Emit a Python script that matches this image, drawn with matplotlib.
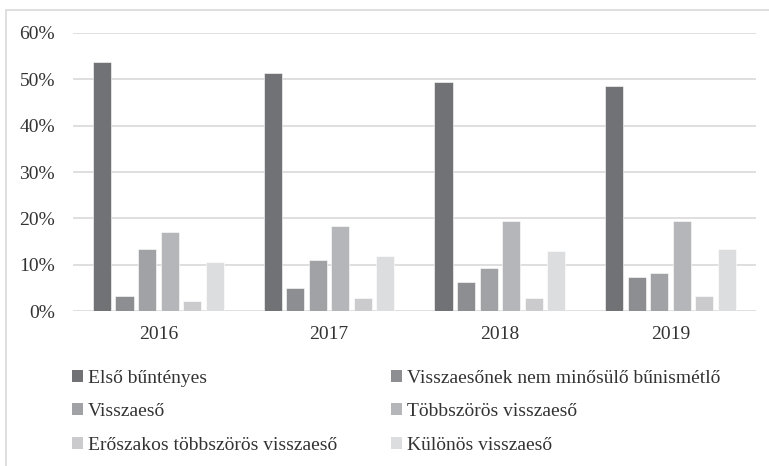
import numpy as np
import matplotlib
matplotlib.use("Agg")
import matplotlib.pyplot as plt
from matplotlib.patches import Rectangle, Patch

years = ["2016", "2017", "2018", "2019"]
series_names = [
    "Első bűntényes",
    "Visszaesőnek nem minősülő bűnismétlő",
    "Visszaeső",
    "Többszörös visszaeső",
    "Erőszakos többszörös visszaeső",
    "Különös visszaeső",
]
elso = [53.7, 51.3, 49.5, 48.6]
nem_minosulo = [3.2, 5.0, 6.3, 7.3]
visszaeso = [13.4, 11.0, 9.2, 8.2]
tobbszoros = [17.1, 18.4, 19.4, 19.4]
eroszakos = [2.2, 2.7, 2.7, 3.2]
kulonos = [10.5, 11.9, 12.9, 13.3]
series_values = [elso, nem_minosulo, visszaeso, tobbszoros, eroszakos, kulonos]
colors = ["#717276", "#8d8e91", "#a1a2a5", "#b5b6b9", "#cbcbcd", "#dcdddf"]

plt.rcParams["font.family"] = ["Liberation Serif", "DejaVu Serif"]
plt.rcParams["font.size"] = 14

fig = plt.figure(figsize=(7.69, 4.66), dpi=100)
ax = fig.add_axes([0.0949, 0.3326, 0.8881, 0.5966])

x = np.arange(len(years))
pitch = 0.132
width = 0.106
for i, (vals, col) in enumerate(zip(series_values, colors)):
    ax.bar(x + (i - 2.5) * pitch, np.array(vals) / 100, width,
           color=col, edgecolor="white", linewidth=0.4, zorder=3)

ax.set_xlim(-0.5, 3.5)
ax.set_ylim(0, 0.6)
ax.set_yticks(np.arange(0, 0.61, 0.1))
ax.set_yticklabels([f"{int(round(v * 100))}%" for v in np.arange(0, 0.61, 0.1)])
ax.set_xticks(x)
ax.set_xticklabels(years)
ax.tick_params(axis="both", length=0, colors="#333333", labelsize=14)
ax.tick_params(axis="y", pad=13)
ax.tick_params(axis="x", pad=11)
ax.grid(axis="y", color="#d9d9d9", linewidth=1.2, zorder=0)
for s in ax.spines.values():
    s.set_visible(False)

# legend laid out row by row (matplotlib fills columns first)
order = [0, 2, 4, 1, 3, 5]
handles = [Patch(facecolor=colors[k], edgecolor="none") for k in order]
labels = [series_names[k] for k in order]
fig.legend(handles, labels, ncol=2, loc="upper left",
           bbox_to_anchor=(0.093, 0.207), frameon=False,
           handlelength=0.6, handleheight=0.6, handletextpad=0.25,
           columnspacing=2.75, labelspacing=0.85, fontsize=14,
           labelcolor="#333333", borderaxespad=0, borderpad=0)

# outer chart border
fig.patches.append(Rectangle((6 / 769, -0.1), 1.2, 1 - 10 / 466 + 0.1,
                             transform=fig.transFigure, fill=False,
                             edgecolor="#d9d9d9", linewidth=1.2))

fig.savefig("out.png", dpi=100)
